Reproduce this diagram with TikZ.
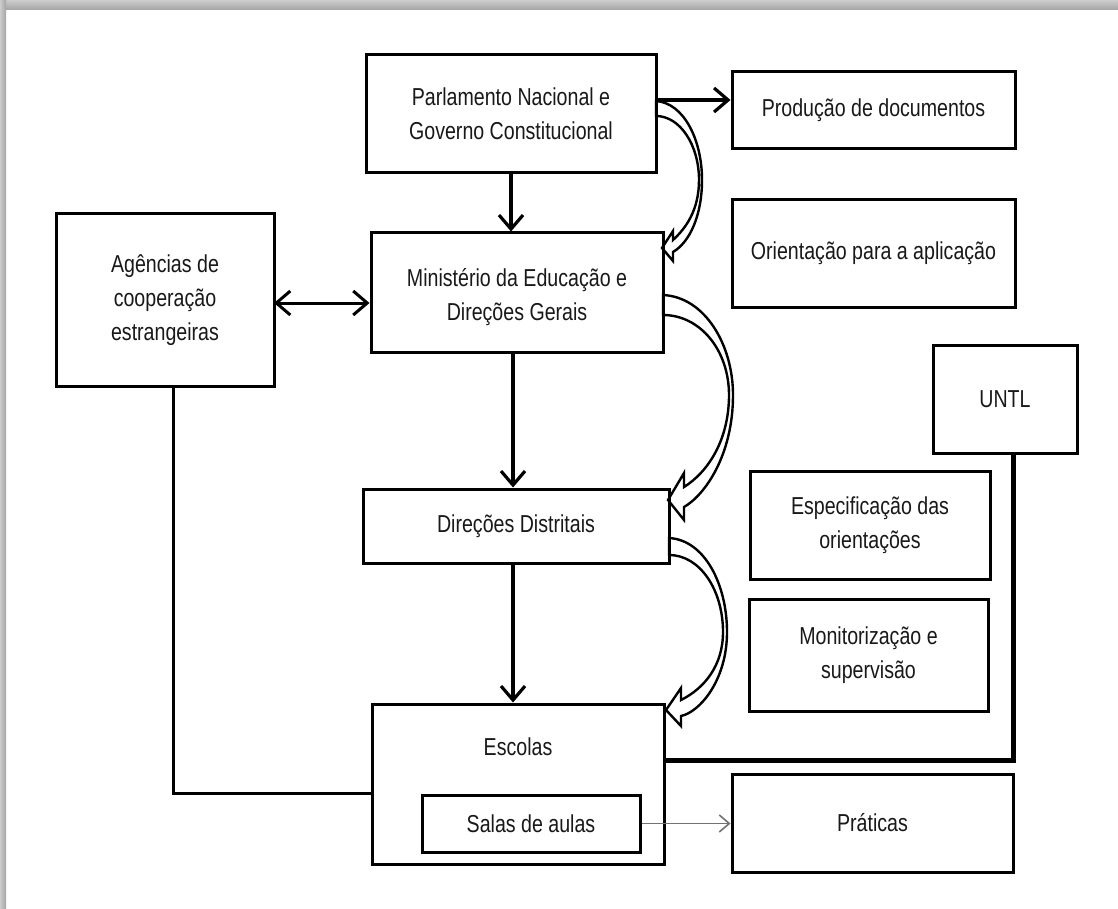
\documentclass[tikz,border=0pt]{standalone}
\usepackage{fontspec}
\setmainfont{Liberation Sans}[FakeStretch=0.8]
\usetikzlibrary{arrows.meta}
\begin{document}
\begin{tikzpicture}[x=1pt,y=-1pt,
  box/.style={draw, line width=3pt, inner sep=0pt, align=center,
    font=\fontsize{24.5}{34}\selectfont, text=black!90},
  txt/.style={inner sep=0pt, align=center, font=\fontsize{24.5}{34}\selectfont, text=black!90},
  flow/.style={line width=3.2pt, -{Straight Barb[length=14pt,width=24pt]}},
  bothflow/.style={line width=3pt, {Straight Barb[length=14pt,width=24pt]}-{Straight Barb[length=14pt,width=24pt]}},
  thinflow/.style={line width=1.6pt, draw=black!55, -{Straight Barb[length=10pt,width=17pt]}},
  link/.style={line width=3pt},
  thicklink/.style={line width=5pt},
  curv/.style={fill=white, draw, line width=2.4pt, line join=miter}]
\useasboundingbox (0,0) rectangle (1118,909);
\fill[white] (0,0) rectangle (1118,909);
\shade[top color=gray!40, bottom color=gray!72] (0,0) rectangle (1118,10);
\shade[left color=gray!40, right color=gray!72] (0,0) rectangle (6,909);

% curved block arrows (drawn first, boxes on top)
\draw[curv] (656,101) .. controls (684,103) and (702,140) .. (702,180)
  .. controls (702,215) and (690,242) .. (673,252) -- (673,261) -- (662,248)
  -- (673,231) -- (673,240) .. controls (686,228) and (699,210) .. (699,180)
  .. controls (699,145) and (680,116) .. (656,116) -- cycle;
\draw[curv] (663,295) .. controls (705,297) and (733,345) .. (733,395)
  .. controls (733,455) and (705,495) .. (684,507) -- (684,520) -- (668,500)
  -- (684,473) -- (684,487) .. controls (708,472) and (729,440) .. (729,395)
  .. controls (729,350) and (700,315) .. (663,315) -- cycle;
\draw[curv] (669,538) .. controls (705,540) and (727,585) .. (727,632)
  .. controls (727,680) and (700,712) .. (681,716) -- (681,726) -- (666,710)
  -- (681,688) -- (681,700) .. controls (705,688) and (723,665) .. (723,632)
  .. controls (723,590) and (700,555) .. (669,555) -- cycle;

% boxes
\node[box, minimum width=290pt, minimum height=118pt] (parl) at (511,114) {Parlamento Nacional e\\Governo Constitucional};
\node[box, minimum width=283pt, minimum height=77pt] (prod) at (873.5,110.5) {Produção de documentos};
\node[box, minimum width=283pt, minimum height=107pt] (orient) at (873.5,253.5) {Orientação para a aplicação};
\node[box, minimum width=218pt, minimum height=172pt] (agen) at (165,300) {Agências de\\cooperação\\estrangeiras};
\node[box, minimum width=292pt, minimum height=119pt] (mined) at (517,292.5) {};
\node[txt] (minedlabel) at (517,297) {Ministério da Educação e\\Direções Gerais};
\node[box, minimum width=144pt, minimum height=108pt] (untl) at (1005,399) {UNTL};
\node[box, minimum width=306pt, minimum height=74pt] (dist) at (516,526) {Direções Distritais};
\node[box, minimum width=240pt, minimum height=108pt] (espec) at (870,525) {Especificação das\\orientações};
\node[box, minimum width=239pt, minimum height=112pt] (monit) at (868.5,655) {Monitorização e\\supervisão};
\node[box, minimum width=292pt, minimum height=160pt] (esc) at (518,784) {};
\node[txt] (esclabel) at (518,747) {Escolas};
\node[box, minimum width=218pt, minimum height=57pt] (salas) at (531,823.5) {Salas de aulas};
\node[box, minimum width=281pt, minimum height=98pt] (prat) at (872.5,823) {Práticas};

% connectors
\coordinate (pp) at (656,100);
\draw[flow] (pp) -- (pp -| prod.west);
\draw[flow] (parl.south) -- (parl.south |- mined.north);
\draw[flow] ([xshift=-4pt]mined.south) -- ([xshift=-4pt]mined.south |- dist.north);
\draw[flow] ([xshift=-3pt]dist.south) -- ([xshift=-3pt]dist.south |- esc.north);
\coordinate (aa) at (274,303);
\draw[bothflow] (aa) -- (aa -| mined.west);
\draw[thinflow] (salas.east) -- (salas.east -| prat.west);
\coordinate (aj) at (173,793);
\draw[link] (aj |- agen.south) -- (aj) -- (aj -| esc.west);
\coordinate (uj) at (1013,760);
\draw[thicklink] (uj |- untl.south) -- (uj) -- (uj -| esc.east);
\end{tikzpicture}
\end{document}
